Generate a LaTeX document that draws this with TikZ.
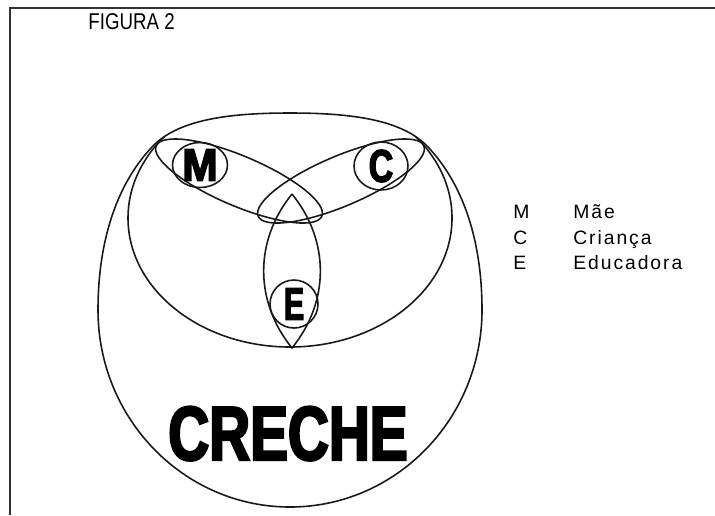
\documentclass[tikz,border=0pt]{standalone}
\usepackage{fontspec}
\setmainfont{Liberation Sans}
\newfontfamily\titlefont[FakeStretch=0.82]{Liberation Sans}
\newfontfamily\legendfont[LetterSpace=10]{Liberation Sans}
\newfontfamily\heavyfont[FakeStretch=0.74,FakeBold=3]{Liberation Sans Bold}
\usetikzlibrary{shapes.geometric}
\tikzset{
	venn/.style={draw=black!90, line width=0.9pt},
	letter/.style={font=\heavyfont\fontsize{26}{26}\selectfont, inner sep=0pt},
	legend/.style={font=\legendfont\fontsize{11}{12}\selectfont, anchor=base west, inner sep=0pt}
}

\begin{document}
\begin{tikzpicture}[x=0.02cm, y=-0.02cm]
	\useasboundingbox (0,0) rectangle (715,515);

	% frame
	\draw[line width=1pt, black!80] (10,515) -- (10,8) -- (715,8);
	\node[anchor=base west, inner sep=0pt, font=\titlefont\fontsize{13}{15}\selectfont] (title) at (88,29) {FIGURA 2};

	% creche
	\path[save path=\outline] (98,310) arc[start angle=180, end angle=0, x radius=192, y radius=197]
		.. controls (482,235) and (460,180) .. (427,146)
		.. controls (400,118) and (345,113) .. (290,113)
		.. controls (235,113) and (180,118) .. (153,146)
		.. controls (120,180) and (98,235) .. (98,310) -- cycle;
	\draw[venn, use path=\outline];
	\begin{scope}
		\clip[use path=\outline];
		\draw[venn] (290,218) ellipse[x radius=162, y radius=129];
	\end{scope}

	% mae, crianca
	\draw[venn, rotate around={-23:(239,181)}] (239,181) ellipse[x radius=90, y radius=25];
	\draw[venn, rotate around={23:(341,181)}] (341,181) ellipse[x radius=90, y radius=25];

	% educadora
	\coordinate (lenstop) at (292,194);
	\coordinate (lensbot) at (292,348);
	\draw[venn] (lenstop) to[bend left=39] (lensbot) to[bend left=39] (lenstop);

	\node[venn, ellipse, letter, minimum width=1.1cm, minimum height=0.9cm] (mae) at (200,165) {\scalebox{1.25}[1]{M}};
	\node[venn, ellipse, letter, minimum width=1.08cm, minimum height=0.96cm] (crianca) at (381,166) {C};
	\node[venn, circle, letter, minimum size=0.96cm] (educadora) at (294,304) {\scalebox{0.9}[1]{E}};

	\node[anchor=base, inner sep=0pt, font=\heavyfont\fontsize{43.6}{44}\selectfont] (creche) at (288,460) {CRECHE};

	% legend
	\node[legend] (km) at (513,218) {M};
	\node[legend] (lm) at (573,218) {Mãe};
	\node[legend] (kc) at (513,244) {C};
	\node[legend] (lc) at (573,244) {Criança};
	\node[legend] (ke) at (513,269) {E};
	\node[legend] (le) at (573,269) {Educadora};
\end{tikzpicture}
\end{document}
